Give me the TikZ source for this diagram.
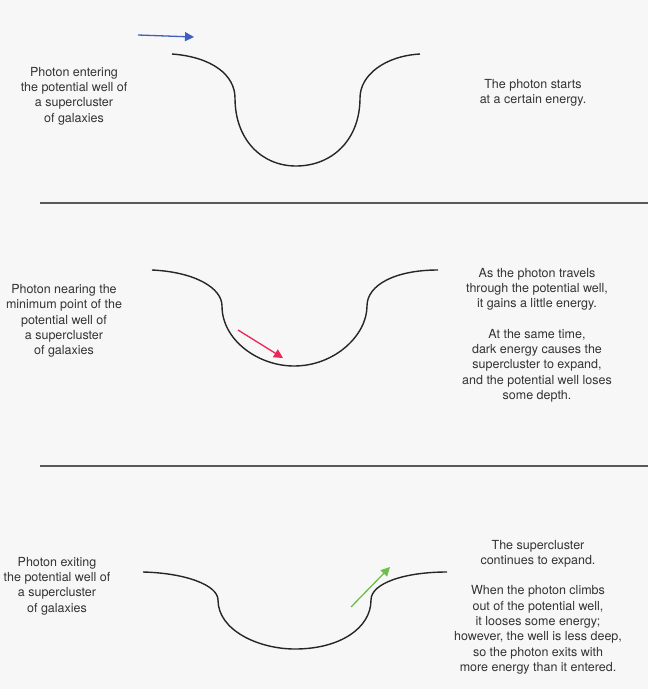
\documentclass[tikz,border=0pt]{standalone}
\usepackage{fontspec}
\setmainfont{TeX Gyre Heros}
\usetikzlibrary{arrows.meta}
\definecolor{bgcol}{HTML}{F7F7F7}
\definecolor{txtcol}{HTML}{333333}
\definecolor{photonblue}{HTML}{3F5FC0}
\definecolor{photonred}{HTML}{EC2458}
\definecolor{photongreen}{HTML}{6CC04A}
\tikzset{x=1pt, y=-1pt,
every node/.style={ % Sets the properties for all texts
text=txtcol,
align=center,
font=\fontsize{12.5}{15.3}\selectfont},
well/.style={ % The potential wells
draw=black!85,
line width=1.4pt},
divider/.style={
draw=black!65,
line width=1.3pt},
photon/.style={ % Photon arrows with filled heads
-{Triangle[length=9pt, width=9pt]},
line width=1.3pt}}

\begin{document}
\begin{tikzpicture}
	\fill[bgcol] (0,0) rectangle (648,689);
	\useasboundingbox (0,0) rectangle (648,689);
	% first stage
	\node (enter) at (74,96) {Photon entering\\the potential well of\\a supercluster\\of galaxies};
	\node (start) at (533,93) {The photon starts\\at a certain energy.};
	\draw[well] (172,54) .. controls (212,57) and (235,75) .. (235,98)
		.. controls (235,140) and (262,166) .. (296,166)
		.. controls (332,166) and (360,140) .. (360,98)
		.. controls (360,75) and (385,56) .. (420,54);
	\coordinate (b0) at (138,35);
	\coordinate (b1) at (194,37);
	\draw[photon, photonblue] (b0) -- (b1);
	\coordinate (d1a) at (40,203);
	\coordinate (d1b) at (648,203);
	\draw[divider] (d1a) -- (d1b);
	% second stage
	\node (near) at (64,321) {Photon nearing the\\minimum point of the\\potential well of\\a supercluster\\of galaxies};
	\node (gain) at (537,335) {As the photon travels\\through the potential well,\\it gains a little energy.\\[15.3pt]At the same time,\\dark energy causes the\\supercluster to expand,\\and the potential well loses\\some depth.};
	\draw[well] (152,270) .. controls (195,272) and (222,288) .. (222,306)
		.. controls (222,340) and (258,366) .. (294,366)
		.. controls (335,366) and (367,335) .. (367,306)
		.. controls (367,285) and (395,270) .. (438,270);
	\coordinate (r0) at (238,330);
	\coordinate (r1) at (283,358);
	\draw[photon, photonred] (r0) -- (r1);
	\coordinate (d2a) at (40,466);
	\coordinate (d2b) at (648,466);
	\draw[divider] (d2a) -- (d2b);
	% third stage
	\node (exit) at (57,586) {Photon exiting\\the potential well of\\a supercluster\\of galaxies};
	\node (lose) at (538,607) {The supercluster\\continues to expand.\\[15.3pt]When the photon climbs\\out of the potential well,\\it looses some energy;\\however, the well is less deep,\\so the photon exits with\\more energy than it entered.};
	\draw[well] (143,572) .. controls (185,573) and (218,585) .. (218,600)
		.. controls (218,630) and (258,649) .. (295,649)
		.. controls (340,649) and (371,628) .. (371,600)
		.. controls (371,583) and (405,572) .. (447,572);
	\coordinate (g0) at (351,607);
	\coordinate (g1) at (390,567);
	\draw[photon, photongreen] (g0) -- (g1);
\end{tikzpicture}
\end{document}
